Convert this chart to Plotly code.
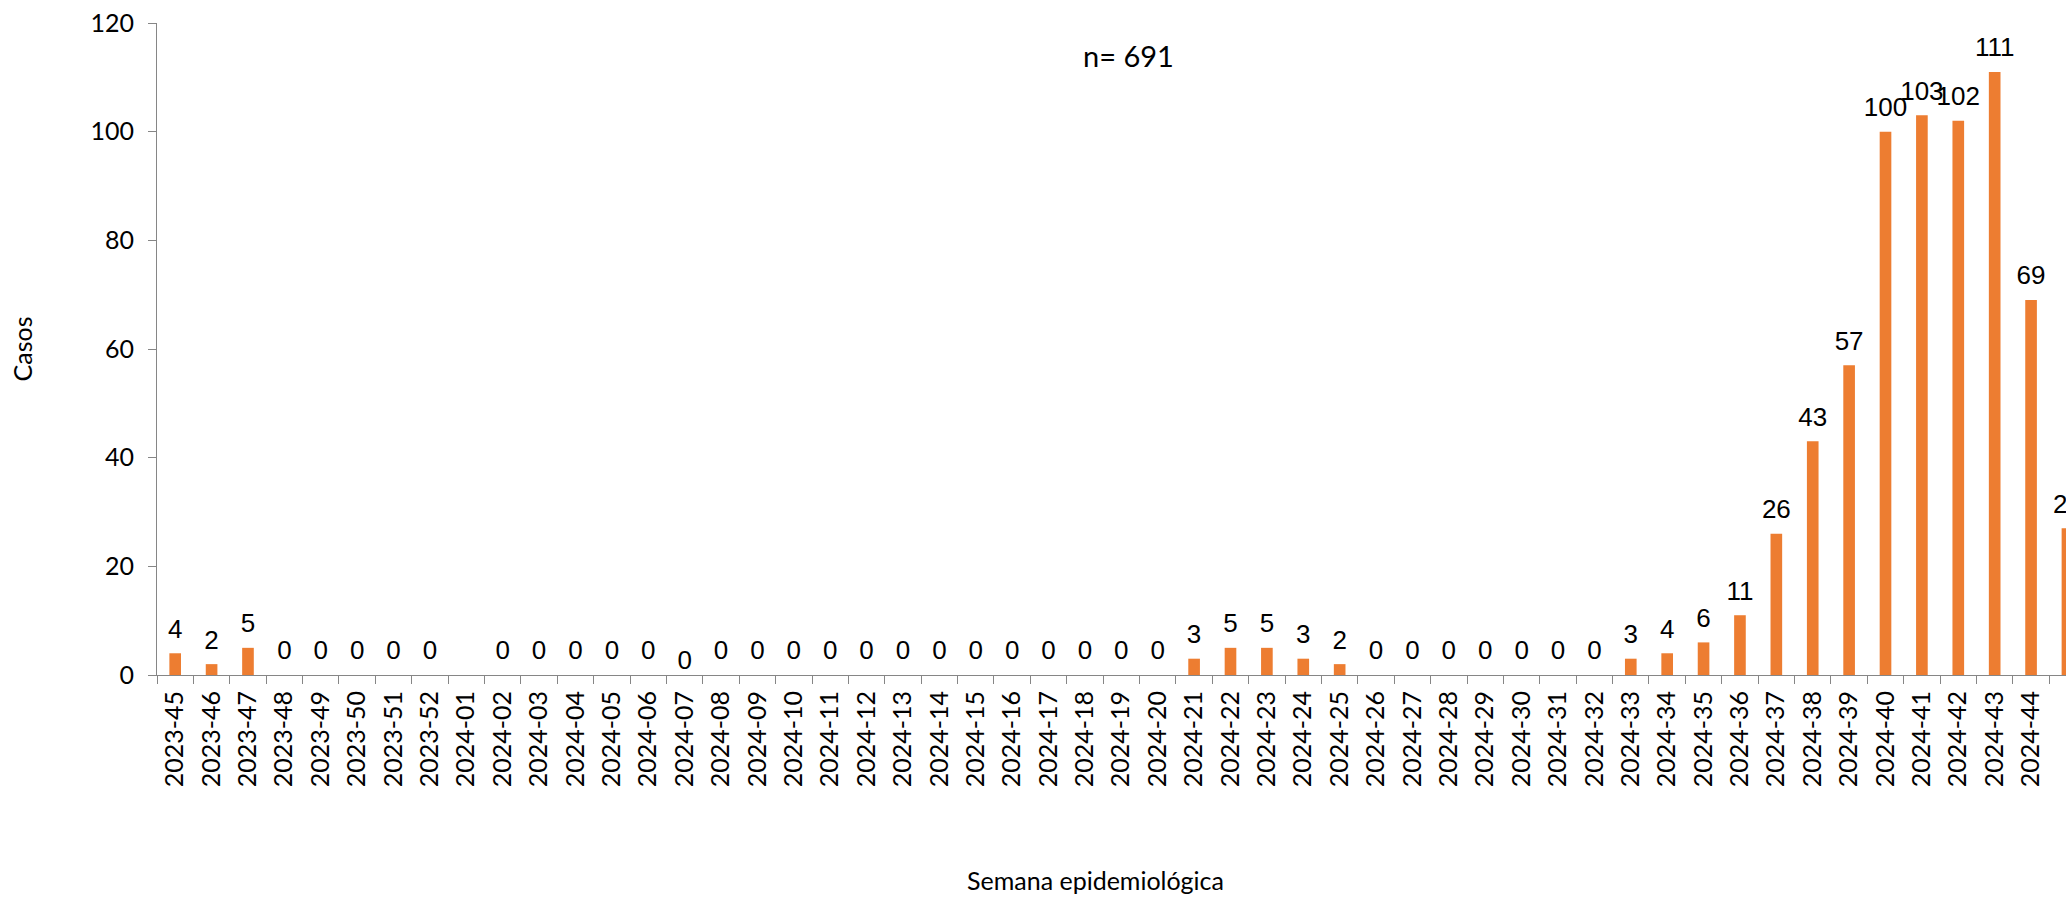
import plotly.graph_objects as go

# ---- data ----
weeks = [
    "2023-45", "2023-46", "2023-47", "2023-48", "2023-49", "2023-50", "2023-51", "2023-52",
    "2024-01", "2024-02", "2024-03", "2024-04", "2024-05", "2024-06", "2024-07", "2024-08",
    "2024-09", "2024-10", "2024-11", "2024-12", "2024-13", "2024-14", "2024-15", "2024-16",
    "2024-17", "2024-18", "2024-19", "2024-20", "2024-21", "2024-22", "2024-23", "2024-24",
    "2024-25", "2024-26", "2024-27", "2024-28", "2024-29", "2024-30", "2024-31", "2024-32",
    "2024-33", "2024-34", "2024-35", "2024-36", "2024-37", "2024-38", "2024-39", "2024-40",
    "2024-41", "2024-42", "2024-43", "2024-44", "2024-45",
]
cases = [
    4, 2, 5, 0, 0, 0, 0, 0,
    None, 0, 0, 0, 0, 0, 0, 0,
    0, 0, 0, 0, 0, 0, 0, 0,
    0, 0, 0, 0, 3, 5, 5, 3,
    2, 0, 0, 0, 0, 0, 0, 0,
    3, 4, 6, 11, 26, 43, 57, 100,
    103, 102, 111, 69, 27,
]
y_ticks = [0, 20, 40, 60, 80, 100, 120]
total_label = "n= 691"
x_title = "Semana epidemiológica"
y_title = "Casos"

# ---- style ----
BAR_COLOR = "#ED7D31"
AXIS_COLOR = "#868686"
AXIS_FONT = dict(family="Lato", size=25, color="black")
LABEL_FONT = dict(family="Liberation Sans", size=26, color="black")
low_label_week = "2024-07"  # its data label sits on the axis in the original

labels = ["" if v is None else str(v) for v in cases]
label_offsets = [0 if w == low_label_week else 13 for w in weeks]

fig = go.Figure()
fig.add_trace(go.Bar(
    x=weeks, y=cases, width=0.32,
    marker=dict(color=BAR_COLOR, line=dict(width=0)),
    hoverinfo="skip", showlegend=False,
))
fig.add_trace(go.Scatter(
    x=weeks, y=cases, mode="markers+text",
    text=labels, textposition="top center", textfont=LABEL_FONT,
    marker=dict(size=label_offsets, opacity=0, color=BAR_COLOR),
    hoverinfo="skip", showlegend=False, cliponaxis=True,
))

fig.update_layout(
    width=2066, height=899,
    margin=dict(l=157, r=0, t=23, b=224),
    plot_bgcolor="white", paper_bgcolor="white",
    showlegend=False,
    annotations=[
        dict(text=total_label, xref="paper", yref="paper",
             x=0.5087, y=0.9505, xanchor="center", yanchor="middle",
             showarrow=False, font=dict(family="Lato", size=29, color="black")),
        dict(text=x_title, xref="paper", yref="paper",
             x=0.4914, y=-0.3143, xanchor="center", yanchor="middle",
             showarrow=False, font=AXIS_FONT),
    ],
)
fig.update_xaxes(
    type="category", range=[-0.5, 51.96],
    tickson="boundaries", ticks="outside", ticklen=8, tickcolor=AXIS_COLOR,
    showline=True, linecolor=AXIS_COLOR, linewidth=1,
    tickangle=-90, tickfont=AXIS_FONT, ticklabelstandoff=5,
    showgrid=False, zeroline=False,
)
fig.update_yaxes(
    range=[0, 120], tickvals=y_ticks,
    ticks="outside", ticklen=8, tickcolor=AXIS_COLOR,
    showline=True, linecolor=AXIS_COLOR, linewidth=1,
    tickfont=AXIS_FONT, ticklabelstandoff=9,
    showgrid=False, zeroline=False,
    title=dict(text=y_title, font=AXIS_FONT, standoff=50),
)

fig.write_html(
    "out.html",
    config={"displayModeBar": False},
    post_script="document.body.style.margin='0px';document.body.style.overflow='hidden';",
)
